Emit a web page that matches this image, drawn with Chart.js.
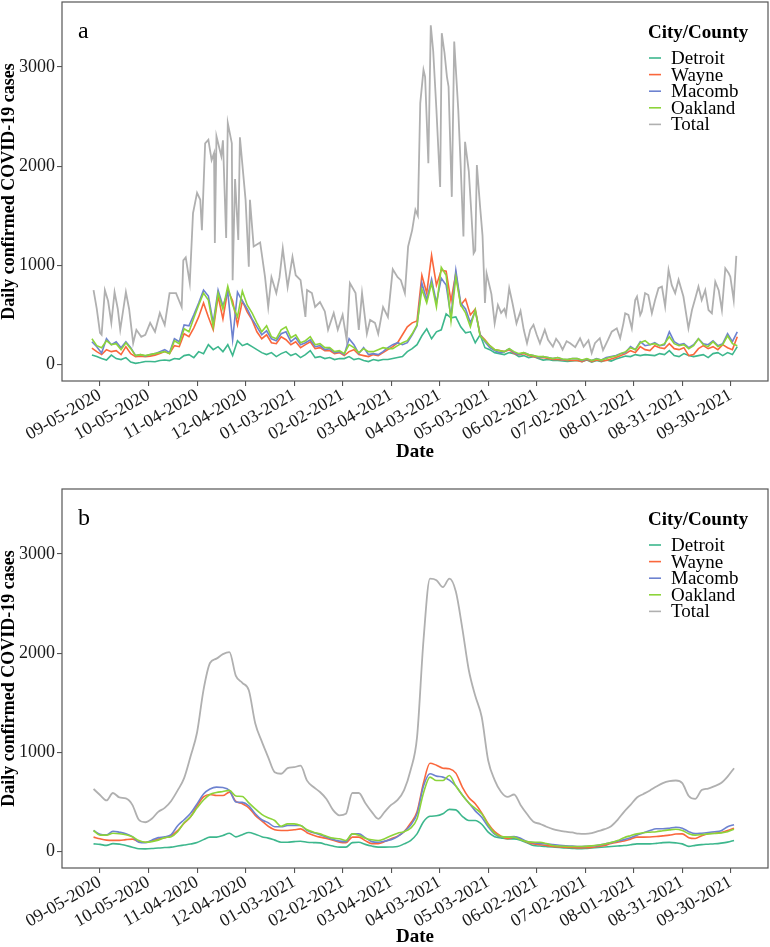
<!DOCTYPE html>
<html><head><meta charset="utf-8">
<script src="https://cdn.jsdelivr.net/npm/chart.js@4.4.0/dist/chart.umd.min.js"></script>
<style>
html,body{margin:0;padding:0;background:#fff;}
#wa{position:absolute;left:0;top:0;width:770px;height:470px;}
#wb{position:absolute;left:0;top:470px;width:770px;height:477px;}
</style></head><body>
<div id="wa"><canvas id="ca"></canvas></div>
<div id="wb"><canvas id="cb"></canvas></div>
<script>
// ---- tick labels (days since 09-05-2020) ----
const tickDays = [0,30,60,90,120,150,180,210,240,270,300,330,360,390];
const tickLabels = ['09-05-2020','10-05-2020','11-04-2020','12-04-2020','01-03-2021','02-02-2021','03-04-2021','04-03-2021','05-03-2021','06-02-2021','07-02-2021','08-01-2021','08-31-2021','09-30-2021'];
const seriesNames = ['Detroit','Wayne','Macomb','Oakland','Total'];
const seriesColors = ['#3db78d','#fa673c','#6d82d0','#8cd43a','#b0b0b0'];

// ---- panel a: daily counts ----
const daysTotalA = [-4,-2,0,1,3,5,7,9,11,12.5,
 16,18,20.5,22.5,25.5,28,31,34,37,40,
 43,47,50.5,51.5,53,55.5,57.5,60,62,63,
 65,67,69,70.5,71,72,75,76,78,79,
 81.5,82,83.5,85.5,86.5,90,92,92.7,95,99,
 102,104,106,109,111,113,116,119,121,124,
 127,128,131,133,136,139,141,144.5,147,150,
 152.5,154.5,158,160,162,165,167,170,172,175,
 178,181,184,186,188.5,190.5,193,195,196.5,198,
 200,201,203,204.5,206,208,210.3,211.3,213,214.5,
 215.5,217.5,219,221.5,223,224.7,225.7,228,229.5,231,
 232,233,235,236.5,238,239,242,244,246,248,
 250,251,253,255,257.5,260,262,264,266,268,
 270,272,275,277,280,282,284,286,288.5,290.7,
 293.8,296.8,299,302,304,306,309,311,314,316.4,
 319.5,321.6,323.6,324.7,326.7,328.8,330.9,332,334,335,
 337,339,341.2,343.2,345.3,347.4,349.4,351.5,353.5,355.6,
 357.7,360.7,363.8,366,368,370,372,374.2,376.2,378.3,
 380.4,382.5,384.5,386.6,388.7,389.7,391.8,393.4];
const totalA = [750,560,320,300,750,640,420,730,560,350,
 730,560,215,350,280,300,420,330,520,400,
 720,720,580,1050,1080,820,1525,1730,1660,1355,
 2230,2265,2060,2130,1225,2300,2100,2260,1275,2435,
 2230,850,1870,1255,2290,1660,985,1660,1190,1230,
 885,580,880,720,880,1170,780,1085,900,850,
 480,750,720,580,630,535,350,520,350,500,
 245,820,720,350,720,310,450,420,310,580,
 480,960,880,850,720,1190,1355,1560,1500,2635,
 2970,2900,2030,3420,3160,2565,1790,3340,3140,2900,
 2800,1690,3255,2565,2000,1290,2245,1950,1550,1120,
 1150,2010,1590,1300,620,920,710,415,600,520,
 560,500,770,620,415,540,350,215,350,400,
 300,213,350,250,180,260,215,150,235,215,
 175,265,180,245,115,215,265,145,245,331,
 365,265,415,516,500,365,650,685,500,535,
 720,700,516,650,770,785,585,955,800,720,
 855,685,365,550,665,785,650,750,550,516,
 835,750,550,970,920,885,650,1095];

const daysA = [-5,-2,1,4,7,10,13,16,19,22,25,28,31,34,37,40,43,46,49,52,55,58,61,64,67,70,73,76,79,82,85,88,91,94,
 97,100,103,106,109,112,115,118,121,124,127,130,133,136,139,142,145,148,151,154,157,160,163,166,169,172,175,178,181,184,187,190,
 193,196,199,202,205,208,211,214,217,220,223,226,229,232,235,238,241,244,247,250,253,256,259,262,265,268,271,274,277,280,283,286,289,292,
 295,298,301,304,307,310,313,316,319,322,325,328,331,334,337,340,343,346,349,352,355,358,361,364,367,370,373,376,379,382,385,388,391,394];
const detroitA = [95,80,60,45,95,60,50,70,25,12,20,30,30,28,40,45,40,60,55,90,100,70,130,110,200,150,180,130,200,90,240,190,210,180,
 150,120,100,120,80,110,130,90,110,70,100,140,70,80,60,70,50,60,60,80,50,60,40,30,50,40,50,50,60,70,80,130,
 160,200,290,360,260,330,350,510,470,480,380,320,330,220,300,170,150,120,110,100,120,110,80,90,70,80,60,45,50,40,40,35,30,35,
 40,30,45,25,40,30,45,35,55,70,85,80,100,90,100,95,90,110,100,140,90,80,110,90,80,90,100,70,110,120,90,120,100,180];
const wayneA = [165,130,100,150,130,140,100,180,110,80,85,80,85,95,110,130,110,190,180,310,280,370,480,620,480,350,690,460,750,640,400,640,530,450,
 330,260,300,220,210,280,250,200,230,170,200,230,160,170,140,140,110,120,90,130,150,100,90,80,100,90,120,150,180,220,300,380,
 420,440,900,720,1100,800,950,940,640,920,600,660,500,560,300,250,190,150,140,130,150,110,100,110,90,80,70,70,60,50,50,45,40,40,
 40,30,50,30,45,35,40,55,70,90,110,140,120,180,150,140,190,170,160,210,160,150,170,90,100,160,190,160,180,150,200,170,150,280];
const macombA = [230,180,115,260,200,230,170,230,170,90,100,85,100,110,130,150,120,260,230,400,390,500,620,750,690,420,750,590,730,250,730,640,560,460,
 380,300,340,260,240,310,330,230,270,200,220,250,180,190,150,160,120,130,100,260,200,110,170,100,110,100,130,170,200,220,200,220,
 300,390,820,650,860,620,870,800,480,950,620,560,420,540,300,230,170,140,120,130,160,120,100,120,100,90,70,80,70,60,70,50,50,60,
 60,40,55,40,60,45,70,80,90,110,120,180,150,230,190,200,220,190,200,330,230,200,210,170,200,260,210,200,240,190,210,310,230,330];
const oaklandA = [260,190,170,240,200,210,150,220,160,90,100,90,100,110,120,130,110,240,210,360,330,470,600,720,650,380,720,560,790,600,480,740,600,520,
 420,330,390,280,260,350,380,270,300,220,240,280,200,210,170,170,130,140,110,200,170,120,160,130,130,150,170,160,160,190,220,240,
 310,400,760,620,820,580,980,900,440,880,600,520,380,550,290,240,190,150,140,130,160,130,110,120,100,90,80,80,70,60,70,55,50,60,
 60,45,60,40,55,45,60,75,85,110,130,170,150,220,240,200,210,190,210,280,210,190,200,160,190,260,200,180,230,180,200,290,210,190];

// ---- panel b: 7-day averages ----
const daysB = [-4,0,4,8,12,16,20,24,28,32, 36,40,44,48,52,56,60,64,68,72, 76,80,84,88,92,96,100,104,108,112,
 116,120,124,128,132,136,140,144,148,152, 156,160,164,168,172,176,180,184,188,192, 196,200,204,208,212,216,220,224,228,232,
 236,240,244,248,252,256,260,264,268,272, 276,280,284,288,292,296,300,304,308,312, 316,320,324,328,332,336,340,344,348,352,
 356,360,364,368,372,376,380,384,388,392];
const totalB = [630,570,515,590,545,535,470,320,295,330, 400,440,510,616,740,960,1200,1630,1900,1944, 1990,2010,1770,1700,1625,1290,1110,950,800,784,
 840,850,865,715,650,600,530,420,365,380, 590,590,490,400,330,400,470,520,620,820, 1150,2130,2750,2735,2665,2750,2620,2250,1830,1570,
 1356,918,720,600,550,575,470,378,300,279, 250,225,210,200,192,180,178,185,205,225, 255,320,400,470,545,580,616,655,690,710,
 716,690,560,531,620,635,660,690,755,840];
const macombB = [212,175,168,205,195,180,150,94,88,115, 140,148,170,260,320,385,480,580,630,649, 645,616,500,495,460,380,320,290,250,250,
 262,262,262,212,190,170,145,122,105,100, 178,178,140,100,94,105,120,150,200,265, 380,660,784,760,750,720,660,570,490,410,
 345,250,175,145,145,150,135,100,90,82, 77,70,63,58,55,50,52,57,62,75, 90,105,120,140,165,190,212,229,229,235,
 245,235,200,180,185,192,200,210,250,270];
const oaklandB = [212,165,165,185,180,170,150,111,94,100, 115,140,150,200,290,350,440,520,575,595, 605,616,560,555,490,430,375,340,313,255,
 279,279,262,220,195,178,155,135,128,111, 178,165,135,118,111,130,160,185,200,235, 330,590,750,716,716,767,660,570,490,435,
 380,270,185,150,145,145,118,100,94,94, 80,60,55,52,50,50,52,57,65,75, 90,110,140,160,178,190,195,200,210,218,
 225,212,180,165,170,178,182,188,200,225];
const wayneB = [145,128,115,112,112,120,125,100,94,105, 125,138,160,210,285,350,460,550,575,565, 565,599,505,481,440,365,310,255,220,212,
 212,219,228,190,165,145,132,115,95,88, 145,145,110,80,80,100,130,155,200,285, 400,690,890,870,840,834,790,650,545,481,
 390,280,200,155,130,145,125,94,77,68, 60,52,47,42,40,37,38,42,50,62, 82,95,106,125,145,145,146,151,158,165,
 176,178,140,132,160,180,185,192,212,235];
const detroitB = [77,72,62,80,75,60,44,28,27,30, 36,40,44,55,65,75,90,120,145,145, 162,185,148,170,192,175,150,135,115,94,
 94,100,104,94,90,87,70,55,44,44, 90,94,72,55,44,44,46,50,77,111, 178,300,355,360,380,425,420,355,313,313,
 275,195,150,138,128,128,115,88,60,55, 50,45,40,36,32,28,30,35,40,45, 50,55,60,68,77,77,77,82,90,92,
 87,77,52,62,70,74,78,85,95,111];

const FONT = '"Liberation Serif", "Times New Roman", serif';
Chart.defaults.font.family = FONT;
Chart.defaults.color = '#1a1a1a';

const panelPlugin = {
  id: 'panelDeco',
  afterDraw(chart, args, opts) {
    const ctx = chart.ctx;
    const a = chart.chartArea;
    ctx.save();
    ctx.strokeStyle = '#555';
    ctx.lineWidth = 1.2;
    ctx.strokeRect(a.left, a.top, a.right - a.left, a.bottom - a.top);
    ctx.fillStyle = '#000';
    ctx.textBaseline = 'alphabetic';
    ctx.textAlign = 'left';
    ctx.font = '24px ' + FONT;
    ctx.fillText(opts.letter, 78, a.top + 36);
    // legend
    ctx.textBaseline = 'middle';
    ctx.font = 'bold 19px ' + FONT;
    ctx.fillText('City/County', 648, a.top + 31);
    ctx.font = '19px ' + FONT;
    seriesNames.forEach((n, i) => {
      const y = a.top + 56 + i * 16.6;
      ctx.strokeStyle = seriesColors[i];
      ctx.lineWidth = 1.6;
      ctx.beginPath(); ctx.moveTo(649, y); ctx.lineTo(661, y); ctx.stroke();
      ctx.fillStyle = '#000';
      ctx.fillText(n, 671, y + 1);
    });
    ctx.restore();
  }
};

function pts(xs, ys) { return ys.map((y, i) => ({x: xs[i], y: y})); }

function makeChart(id, letter, sets, smooth, pad, xHeight, titlePad) {
  const order = [4, 3, 2, 1, 0];
  const datasets = sets.map((s, i) => ({
    label: seriesNames[i],
    data: pts(s[0], s[1]),
    borderColor: seriesColors[i],
    borderWidth: i === 4 ? 1.8 : 1.6,
    pointRadius: 0,
    fill: false,
    tension: smooth ? 0.35 : 0,
    cubicInterpolationMode: smooth ? 'monotone' : 'default',
    order: order[i]
  }));
  return new Chart(document.getElementById(id), {
    type: 'line',
    data: { datasets },
    plugins: [panelPlugin],
    options: {
      responsive: true, maintainAspectRatio: false, animation: false, devicePixelRatio: 1,
      layout: { padding: pad },
      plugins: { legend: { display: false }, tooltip: { enabled: false }, panelDeco: { letter } },
      scales: {
        x: {
          type: 'linear', min: -23.5, max: 413,
          afterBuildTicks: s => { s.ticks = tickDays.map(v => ({ value: v })); },
          afterFit: s => { s.height = xHeight; s.paddingLeft = 0; s.paddingRight = 0; },
          ticks: { autoSkip: false, minRotation: 30, maxRotation: 30, padding: 0,
                   font: { size: 18, lineHeight: 1.0 }, color: '#1a1a1a',
                   callback: v => tickLabels[tickDays.indexOf(v)] },
          grid: { drawOnChartArea: false, drawTicks: true, tickLength: 5, color: '#555', lineWidth: 1.1 },
          border: { display: false },
          title: { display: true, text: 'Date', color: '#000', font: { size: 19, weight: 'bold', lineHeight: 1.0 }, padding: { top: 0, bottom: titlePad } }
        },
        y: {
          type: 'linear', min: -166, max: 3654,
          afterBuildTicks: s => { s.ticks = [0, 1000, 2000, 3000].map(v => ({ value: v })); },
          afterFit: s => { s.width = 62; s.paddingTop = 0; s.paddingBottom = 0; },
          ticks: { padding: 2, font: { size: 18 }, color: '#1a1a1a', callback: v => String(v) },
          grid: { drawOnChartArea: false, drawTicks: true, tickLength: 5, color: '#555', lineWidth: 1.1 },
          border: { display: false },
          title: { display: true, text: 'Daily confirmed COVID-19 cases', color: '#000', font: { size: 18, weight: 'bold', lineHeight: 1.0 }, padding: { top: 0, bottom: 0 } }
        }
      }
    }
  });
}

makeChart('ca', 'a', [[daysA, detroitA], [daysA, wayneA], [daysA, macombA], [daysA, oaklandA], [daysTotalA, totalA]],
  false, { top: 2, right: 2, left: 0, bottom: 0 }, 89, 8.5);
makeChart('cb', 'b', [[daysB, detroitB], [daysB, wayneB], [daysB, macombB], [daysB, oaklandB], [daysB, totalB]],
  true, { top: 19, right: 2, left: 0, bottom: 0 }, 79, 0);
</script>
</body></html>
